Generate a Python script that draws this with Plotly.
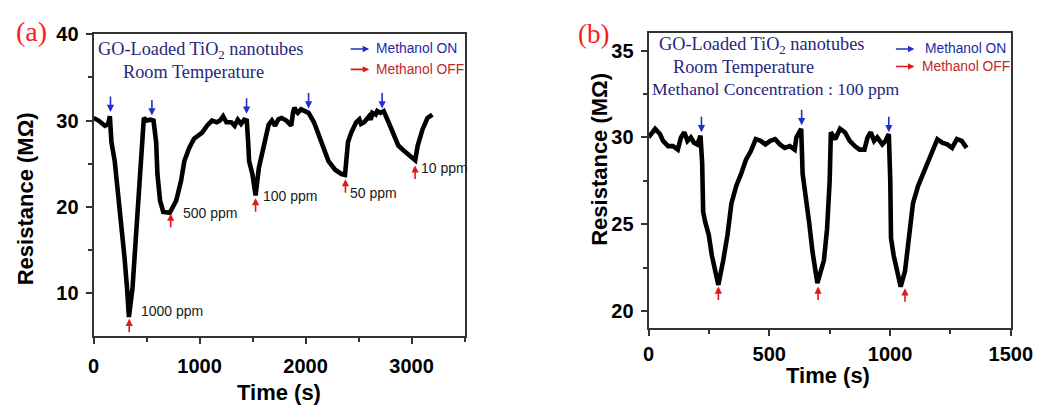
import plotly.graph_objects as go

# ---- Panel (a): response to different methanol concentrations ----
time_a = [0, 46, 107, 137, 153, 168, 199, 229, 260, 290, 315, 333, 367, 397, 428, 458, 474,
          504, 535, 565, 590, 602, 627, 657, 718, 779, 825, 856, 901, 947, 993, 1024, 1070,
          1116, 1162, 1192, 1222, 1253, 1299, 1330, 1360, 1391, 1421, 1445, 1458, 1467, 1498,
          1519, 1528, 1559, 1605, 1651, 1682, 1712, 1743, 1773, 1819, 1865, 1881, 1895, 1911,
          1926, 1957, 1987, 2028, 2079, 2125, 2171, 2216, 2278, 2339, 2372, 2385, 2400, 2431,
          2477, 2507, 2523, 2553, 2569, 2599, 2615, 2630, 2661, 2676, 2706, 2737, 2783, 2829,
          2875, 2936, 2997, 3034, 3058, 3104, 3150, 3196]
res_a = [30.3, 30.0, 29.4, 29.6, 30.5, 27.5, 25.3, 21.9, 18.8, 14.3, 10.6, 7.2, 10.6, 16.2,
         21.9, 27.5, 30.3, 30.0, 30.1, 30.0, 27.5, 23.8, 20.7, 19.4, 19.3, 20.7, 23.0, 25.3,
         26.8, 27.9, 28.3, 28.6, 29.4, 30.0, 29.8, 30.0, 30.5, 29.8, 29.8, 29.4, 30.1, 29.6,
         30.1, 30.0, 27.5, 25.3, 23.8, 21.5, 21.3, 24.5, 27.1, 29.5, 30.0, 29.4, 30.15, 30.3,
         30.0, 29.4, 30.9, 31.5, 31.1, 30.9, 31.3, 31.1, 30.9, 29.8, 28.3, 26.6, 25.3, 24.3,
         23.8, 23.7, 25.6, 27.5, 28.6, 29.8, 30.15, 29.6, 29.8, 30.0, 30.5, 30.1, 30.9, 30.7,
         31.1, 30.9, 31.1, 29.8, 28.3, 27.1, 26.4, 25.8, 25.4, 27.1, 29.0, 30.3, 30.7]
on_time_a = [159, 550, 1443, 2028, 2722]
on_res_a = [31.0, 30.6, 30.8, 31.4, 31.4]
off_time_a = [336, 727, 1528, 2376, 3033]
off_res_a = [7.0, 19.2, 21.0, 23.2, 24.8]
conc_labels = ["1000 ppm", "500 ppm", "100 ppm", "50 ppm", "10 ppm"]
conc_time = [430, 820, 1580, 2400, 3070]
conc_res = [7.9, 19.3, 21.2, 21.6, 24.5]

# ---- Panel (b): repeated cycles at 100 ppm ----
time_b = [0, 27, 47, 60, 81, 101, 121, 134, 148, 161, 175, 188, 202, 215, 222, 226, 235, 249,
          262, 275, 289, 309, 327, 343, 363, 383, 403, 423, 444, 464, 484, 504, 524, 544, 564,
          585, 605, 612, 632, 638, 652, 665, 679, 699, 726, 739, 750, 755, 773, 793, 813, 833,
          854, 874, 894, 907, 920, 934, 947, 968, 981, 995, 1001, 1004, 1015, 1028, 1044, 1062,
          1078, 1095, 1116, 1136, 1156, 1176, 1196, 1216, 1237, 1257, 1277, 1297, 1317]
res_b = [30.0, 30.5, 30.2, 29.8, 29.5, 29.5, 29.3, 30.0, 30.3, 29.8, 30.0, 29.7, 29.6, 30.1,
         28.5, 25.7, 25.1, 24.4, 23.2, 22.3, 21.5, 22.9, 24.4, 26.2, 27.2, 27.9, 28.7, 29.2,
         29.9, 29.8, 29.6, 29.8, 29.9, 29.6, 29.4, 29.5, 29.3, 30.0, 30.5, 27.9, 26.6, 25.1,
         23.4, 21.6, 22.9, 24.7, 27.5, 30.3, 29.9, 30.5, 30.3, 29.8, 29.5, 29.3, 29.3, 30.0,
         30.3, 29.8, 30.0, 29.6, 29.8, 30.2, 27.5, 24.2, 23.2, 22.3, 21.4, 22.3, 24.0, 26.2,
         27.2, 27.9, 28.6, 29.2, 29.9, 29.7, 29.6, 29.4, 29.9, 29.8, 29.4]
on_time_b = [219, 634, 995]
on_res_b = [30.3, 30.7, 30.3]
off_time_b = [289, 702, 1062]
off_res_b = [21.4, 21.4, 21.3]

W, H = 1061, 410
BLUE_TXT = "#26267e"
ARROW_BLUE = "#1f2fd0"
ARROW_RED = "#e01818"
AXIS_COL = "#333333"


def px(x, y):
    return x / W, 1 - y / H


fig = go.Figure()
fig.add_trace(go.Scatter(x=time_a, y=res_a, mode="lines", xaxis="x", yaxis="y",
                         line=dict(color="black", width=4.6), showlegend=False))
fig.add_trace(go.Scatter(x=time_b, y=res_b, mode="lines", xaxis="x2", yaxis="y2",
                         line=dict(color="black", width=4.6), showlegend=False))

tick_font = dict(family="Liberation Sans", size=20, color="black", weight="bold")
axis_common = dict(showline=True, linecolor=AXIS_COL, linewidth=2, mirror=True,
                   ticks="outside", ticklen=6, tickwidth=2, tickcolor=AXIS_COL,
                   showgrid=False, zeroline=False, tickfont=tick_font)
minor_common = dict(ticks="outside", ticklen=4, tickcolor=AXIS_COL, tickwidth=1.5)

fig.update_layout(
    width=W, height=H, margin=dict(l=0, r=0, t=0, b=0), autosize=False,
    paper_bgcolor="white", plot_bgcolor="white",
    xaxis=dict(domain=[90 / W, 471 / W], range=[0, 3500], tickvals=[0, 1000, 2000, 3000],
               minor=dict(tickvals=[500, 1500, 2500, 3500], **minor_common),
               ticklabelstandoff=5, anchor="y", **axis_common),
    yaxis=dict(domain=[1 - 334 / H, 1 - 24 / H], range=[5, 40], tickvals=[10, 20, 30, 40],
               minor=dict(tickvals=[15, 25, 35], **minor_common),
               ticklabelstandoff=3, anchor="x", **axis_common),
    xaxis2=dict(domain=[660 / W, 1032 / W], range=[0, 1500], tickvals=[0, 500, 1000, 1500],
                minor=dict(tickvals=[250, 750, 1250], **minor_common),
                ticklabelstandoff=1, anchor="y2", **axis_common),
    yaxis2=dict(domain=[1 - 326 / H, 1 - 23 / H], range=[19, 36], tickvals=[20, 25, 30, 35],
                minor=dict(tickvals=[22.5, 27.5, 32.5], **minor_common),
                ticklabelstandoff=3, anchor="x2", **axis_common),
)

ann = []

# stimulus markers: gas on (blue, downward) and gas off (red, upward)
for xr, yr, ts, rs in [("x", "y", on_time_a, on_res_a), ("x2", "y2", on_time_b, on_res_b)]:
    for t, r in zip(ts, rs):
        ann.append(dict(x=t, y=r, xref=xr, yref=yr, ax=0, ay=-17, text="", showarrow=True,
                        arrowhead=2, arrowsize=0.9, arrowwidth=1.6, arrowcolor=ARROW_BLUE))
for xr, yr, ts, rs in [("x", "y", off_time_a, off_res_a), ("x2", "y2", off_time_b, off_res_b)]:
    for t, r in zip(ts, rs):
        ann.append(dict(x=t, y=r, xref=xr, yref=yr, ax=0, ay=15, text="", showarrow=True,
                        arrowhead=2, arrowsize=0.9, arrowwidth=1.6, arrowcolor=ARROW_RED))

# concentration labels
for lab, t, r in zip(conc_labels, conc_time, conc_res):
    ann.append(dict(x=t, y=r, xref="x", yref="y", text=lab, showarrow=False,
                    xanchor="left", yanchor="middle",
                    font=dict(family="Liberation Sans", size=14, color="#1a1a1a")))


def text_at(x, y, s, size, color, family="Liberation Serif", xanchor="center", weight="normal",
            angle=0):
    xp, yp = px(x, y)
    ann.append(dict(x=xp, y=yp, xref="paper", yref="paper", text=s, showarrow=False,
                    xanchor=xanchor, yanchor="middle", textangle=angle,
                    font=dict(family=family, size=size, color=color, weight=weight)))


# panel letters
text_at(26, 21, "(a)", 28, "#ff1a1a")
text_at(603, 24, "(b)", 27, "#ff1a1a")

# in-plot descriptions
text_at(200, 41, "GO-Loaded TiO<sub>2</sub> nanotubes", 18.3, BLUE_TXT)
text_at(193, 63, "Room Temperature", 18.3, BLUE_TXT)
text_at(776, 35, "GO-Loaded TiO<sub>2</sub> nanotubes", 18.3, BLUE_TXT)
text_at(757, 58, "Room Temperature", 18.3, BLUE_TXT)
text_at(791, 80, "Methanol Concentration : 100 ppm", 17.6, BLUE_TXT)

# key for the arrows
for (x0, x1, y, tx, lab, acol, tcol) in [
        (353, 373, 39, 378, "Methanol ON", ARROW_BLUE, "#1c2aa8"),
        (353, 373, 60, 378, "Methanol OFF", ARROW_RED, "#c02828"),
        (913, 933, 39, 942, "Methanol ON", ARROW_BLUE, "#1c2aa8"),
        (913, 933, 57, 939, "Methanol OFF", ARROW_RED, "#c02828")]:
    xa, ya = px(x1, y)
    ann.append(dict(x=xa, y=ya, xref="paper", yref="paper", ax=-(x1 - x0), ay=0, text="",
                    showarrow=True, arrowhead=2, arrowsize=0.8, arrowwidth=1.6,
                    arrowcolor=acol))
    text_at(tx, y, lab, 13.8, tcol, family="Liberation Sans", xanchor="left")

# axis titles
text_at(20, 193, "Resistance (MΩ)", 22, "black", family="Liberation Sans", weight="bold",
        angle=-90)
text_at(610, 152, "Resistance (MΩ)", 22, "black", family="Liberation Sans", weight="bold",
        angle=-90)
text_at(280, 392, "Time (s)", 22, "black", family="Liberation Sans", weight="bold")
text_at(844, 375, "Time (s)", 22, "black", family="Liberation Sans", weight="bold")

fig.update_layout(annotations=ann)
fig.write_html("out.html")
